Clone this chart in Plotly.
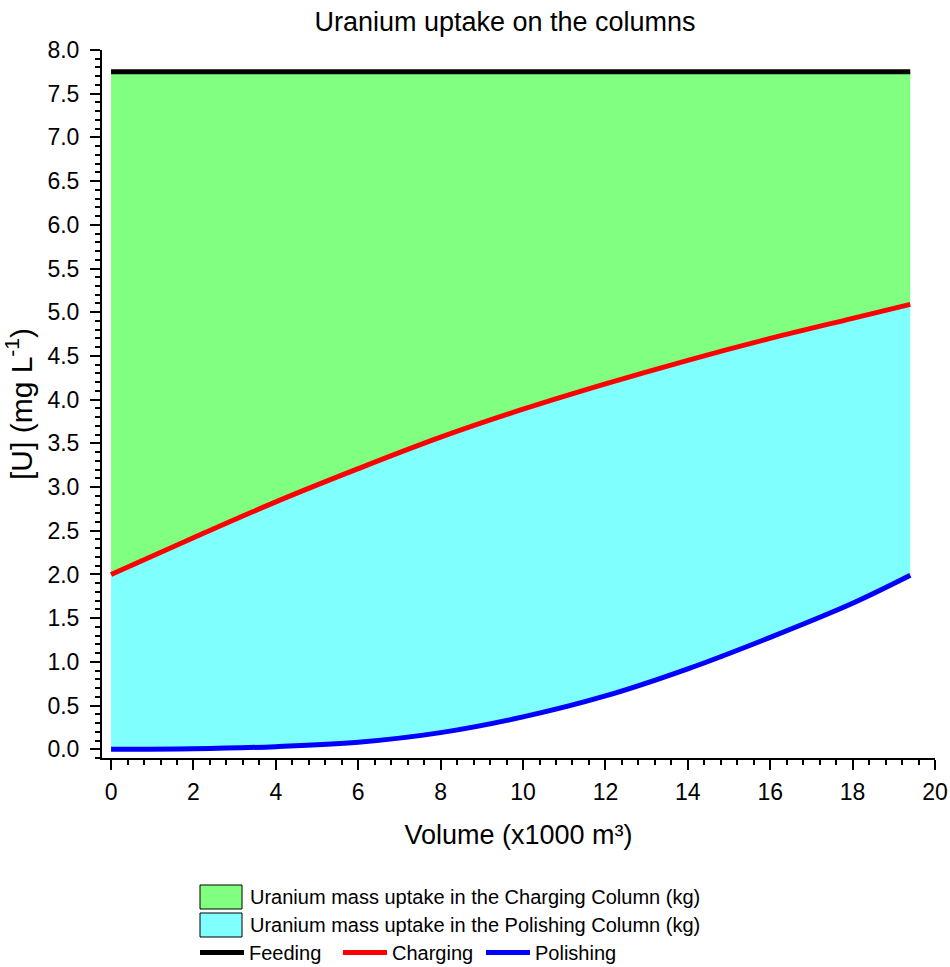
import plotly.graph_objects as go

# Data
volume = [0, 2, 4, 6, 8, 10, 12, 14, 16, 18, 19.4]  # x1000 m3
feeding = [7.75] * len(volume)
charging = [2.00, 2.42, 2.83, 3.21, 3.57, 3.89, 4.18, 4.45, 4.70, 4.93, 5.09]
polishing = [0.00, 0.005, 0.03, 0.08, 0.19, 0.37, 0.61, 0.92, 1.28, 1.67, 1.99]

fill_labels = ["Uranium mass uptake in the Charging Column (kg)",
               "Uranium mass uptake in the Polishing Column (kg)"]
line_labels = ["Feeding", "Charging", "Polishing"]

GREEN = "#80FF80"
CYAN = "#80FFFF"
FONT = "Liberation Sans, Arial, sans-serif"

W, H = 950, 967
ML, MR, MT, MB = 102, 15, 50, 967 - 758
PW, PH = W - ML - MR, H - MT - MB


def px_x(p):  # page pixel -> paper x
    return (p - ML) / PW


def px_y(p):  # page pixel -> paper y
    return (H - MB - p) / PH


fig = go.Figure()

# Fills (drawn first, beneath the lines)
fig.add_trace(go.Scatter(x=volume, y=polishing, mode="lines", line=dict(width=0, shape="spline"),
                         showlegend=False, hoverinfo="skip"))
fig.add_trace(go.Scatter(x=volume, y=charging, mode="lines", line=dict(width=0, shape="spline"),
                         fill="tonexty", fillcolor=CYAN, showlegend=False, hoverinfo="skip"))
fig.add_trace(go.Scatter(x=volume, y=feeding, mode="lines", line=dict(width=0, shape="spline"),
                         fill="tonexty", fillcolor=GREEN, showlegend=False, hoverinfo="skip"))

# Lines
for name, ys, col in zip(line_labels, [feeding, charging, polishing], ["black", "red", "blue"]):
    fig.add_trace(go.Scatter(x=volume, y=ys, mode="lines",
                             line=dict(color=col, width=5, shape="spline"),
                             name=name, legend="legend2"))

# Legend swatches for the filled areas (outside the plot area)
shapes = []
annotations = []
for i, (lab, col) in enumerate(zip(fill_labels, [GREEN, CYAN])):
    top = 885 + i * 28
    shapes.append(dict(type="rect", xref="paper", yref="paper",
                       x0=px_x(200), x1=px_x(242), y0=px_y(top), y1=px_y(top + 24),
                       fillcolor=col, line=dict(color="black", width=1)))
    annotations.append(dict(text=lab, xref="paper", yref="paper", x=px_x(248), y=px_y(top + 12),
                            xanchor="left", yanchor="middle", showarrow=False,
                            font=dict(family=FONT, size=20, color="black")))

fig.update_layout(
    width=W, height=H,
    margin=dict(l=ML, r=MR, t=MT, b=MB, autoexpand=False),
    paper_bgcolor="white", plot_bgcolor="white",
    font=dict(family=FONT, color="black", size=20),
    title=dict(text="Uranium uptake on the columns", x=505 / W, xref="container", xanchor="center",
               y=1 - 22 / H, yref="container", yanchor="middle",
               font=dict(family=FONT, size=27, color="black")),
    xaxis=dict(range=[-0.22, 20], showgrid=False, zeroline=False, automargin=False,
               showline=True, linecolor="black", linewidth=2,
               ticks="outside", ticklen=10, tickwidth=2, tickcolor="black",
               tickmode="linear", tick0=0, dtick=2, ticklabelstandoff=2,
               minor=dict(ticks="outside", ticklen=5, tickwidth=1.5, tickcolor="black", dtick=0.4, tick0=0),
               tickfont=dict(size=23),
               title=dict(text="Volume (x1000 m³)", font=dict(size=27), standoff=22)),
    yaxis=dict(range=[-0.1, 8.0], showgrid=False, zeroline=False, automargin=False,
               showline=True, linecolor="black", linewidth=2,
               ticks="outside", ticklen=10, tickwidth=2, tickcolor="black",
               tickmode="linear", tick0=0, dtick=0.5, tickformat=".1f", ticklabelstandoff=6,
               minor=dict(ticks="outside", ticklen=5, tickwidth=1.5, tickcolor="black", dtick=0.1, tick0=0),
               tickfont=dict(size=23),
               title=dict(text="[U] (mg L<sup>-1</sup>)", font=dict(size=30), standoff=9)),
    legend2=dict(x=195 / W, y=1 - 933 / H, xref="container", yref="container",
                 xanchor="left", yanchor="top",
                 orientation="h", bgcolor="rgba(0,0,0,0)", font=dict(size=20),
                 itemwidth=44, entrywidth=84, entrywidthmode="pixels"),
    shapes=shapes,
    annotations=annotations,
)

fig.write_html("out.html", config={"displayModeBar": False},
               post_script="document.body.style.margin='0';document.body.style.overflow='hidden';")
